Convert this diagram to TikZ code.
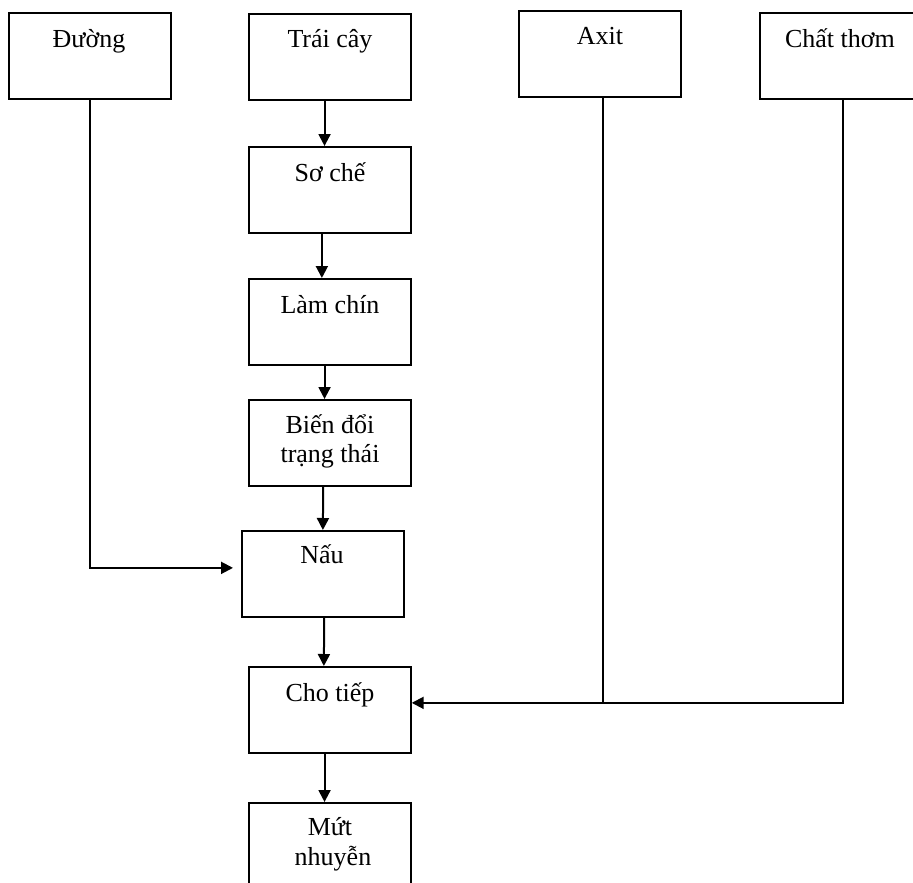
\documentclass[tikz,border=0pt]{standalone}
\usepackage{fontspec}
\setmainfont{Liberation Serif}
\usetikzlibrary{arrows.meta}
\begin{document}
\begin{tikzpicture}[x=0.75pt,y=-0.75pt,
  every node/.style={font=\fontsize{19.5}{22.5}\selectfont},
  box/.style={draw, line width=1.3pt, minimum width=121.5pt, minimum height=64.5pt,
              inner sep=0pt, anchor=north west},
  lbl/.style={anchor=base, inner sep=0pt, align=center},
  conn/.style={line width=1.5pt},
  flow/.style={conn, -{Triangle[length=9pt,width=9pt]}}]
\useasboundingbox (0,0) rectangle (913,882);
\clip (0,0) rectangle (913,882);

% boxes
\node[box] (b-duong) at (8,12)   {};
\node[box] (b-trai)  at (248,13) {};
\node[box] (b-axit)  at (518,10) {};
\node[box] (b-chat)  at (759,12) {};
\node[box] (b-soche) at (248,146) {};
\node[box] (b-lam)   at (248,278) {};
\node[box] (b-bien)  at (248,399) {};
\node[box] (b-nau)   at (241,530) {};
\node[box] (b-cho)   at (248,666) {};
\node[box] (b-mut)   at (248,802) {};

% labels
\node[lbl] (t-duong) at (89,47)  {Đường};
\node[lbl] (t-trai)  at (330,47) {Trái cây};
\node[lbl] (t-axit)  at (600,44) {Axit};
\node[lbl] (t-chat)  at (840,47) {Chất thơm};
\node[lbl] (t-soche) at (330,181) {Sơ chế};
\node[lbl] (t-lam)   at (330,313) {Làm chín};
\node[lbl] (t-bien1) at (330,433) {Biến đổi};
\node[lbl] (t-bien2) at (330,462) {trạng thái};
\node[lbl] (t-nau)   at (322,563) {Nấu};
\node[lbl] (t-cho)   at (330,701) {Cho tiếp};
\node[lbl] (t-mut1)  at (330,835) {Mứt};
\node[lbl] (t-mut2)  at (333,865) {nhuyễn};

% main column
\draw[flow] ([xshift=-4pt]b-trai.south)  -- ([xshift=-4pt]b-soche.north);
\draw[flow] ([xshift=-6pt]b-soche.south) -- ([xshift=-6pt]b-lam.north);
\draw[flow] ([xshift=-4pt]b-lam.south)   -- ([xshift=-4pt]b-bien.north);
\draw[flow] ([xshift=-5pt]b-bien.south)  -- (b-nau.north);
\draw[flow] ([xshift=1pt]b-nau.south)    -- ([xshift=-4.5pt]b-cho.north);
\draw[flow] ([xshift=-4pt]b-cho.south)   -- ([xshift=-4pt]b-mut.north);

% side inputs
\draw[flow, shorten >=6pt] (b-duong.south) |- ([yshift=4.5pt]b-nau.west);
\coordinate (join) at ([yshift=5.25pt]b-cho.east);
\draw[flow] ([xshift=1.5pt]b-chat.south) |- (join);
\draw[conn] ([xshift=2.25pt]b-axit.south) -- ([xshift=2.25pt]b-axit.south |- join);
\end{tikzpicture}
\end{document}
